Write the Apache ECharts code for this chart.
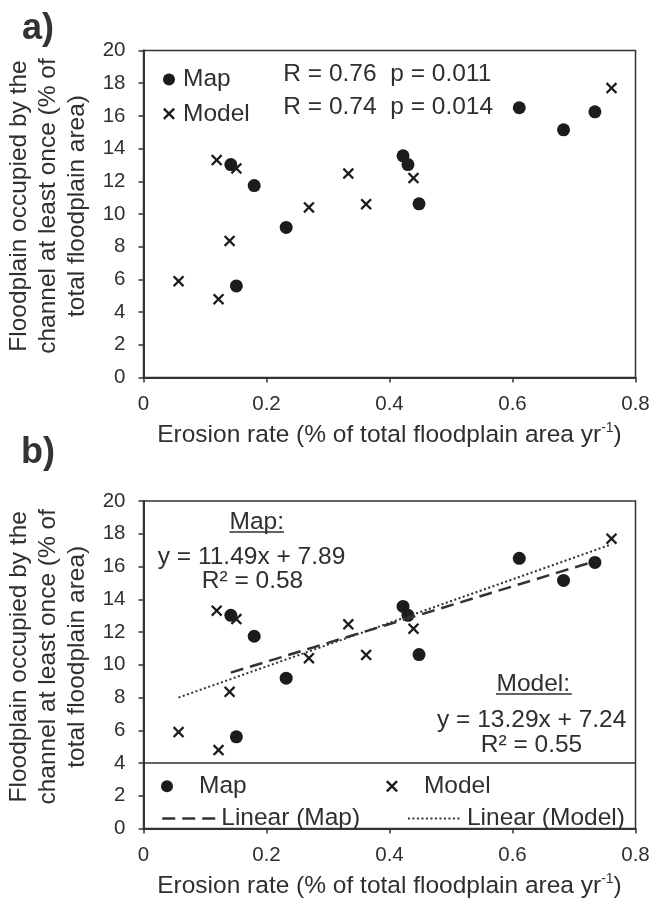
<!DOCTYPE html>
<html>
<head>
<meta charset="utf-8">
<script src="https://cdn.jsdelivr.net/npm/echarts@6/dist/echarts.min.js"></script>
<style>
  html, body { margin: 0; padding: 0; background: #fff; }
  #chart { width: 665px; height: 899px; }
</style>
</head>
<body>
<div id="chart"></div>
<script>
// Erosion rate (% of floodplain area per year) vs. floodplain occupied (%)
const mapX   = [0.142, 0.180, 0.151, 0.232, 0.422, 0.430, 0.448, 0.611, 0.683, 0.734];
const mapY   = [13.02, 11.74, 5.60, 9.18, 13.56, 13.02, 10.62, 16.50, 15.15, 16.25];
const modelX = [0.119, 0.151, 0.333, 0.269, 0.362, 0.439, 0.140, 0.057, 0.122, 0.761];
const modelY = [13.30, 12.79, 12.47, 10.40, 10.60, 12.20, 8.35, 5.89, 4.79, 17.70];

// Least-squares fits (slope, intercept, R²) and correlation stats
const mapFit   = [11.49, 7.89, 0.58];
const modelFit = [13.29, 7.24, 0.55];
const mapStats   = [0.76, 0.011];
const modelStats = [0.74, 0.014];

// Axis ranges / tick steps
const xRange = [0, 0.8, 0.2];
const yRange = [0, 20, 2];

const pairs = (xs, ys) => xs.map((x, i) => [x, ys[i]]);
const fitLine = (xs, fit) => {
  const lo = Math.min(...xs), hi = Math.max(...xs);
  return [[lo, fit[0] * lo + fit[1]], [hi, fit[0] * hi + fit[1]]];
};

const FONT = '"Liberation Sans", Arial, sans-serif';
const TXT = '#2f2f2f';
const AX = '#333333';
const MARK = '#1c1c1c';
// filled "x" glyph
const CROSS = 'path://M0,1.4L1.4,0L5,3.6L8.6,0L10,1.4L6.4,5L10,8.6L8.6,10L5,6.4L1.4,10L0,8.6L3.6,5Z';

const xAxisFor = (gi) => ({
  type: 'value', gridIndex: gi,
  min: xRange[0], max: xRange[1], interval: xRange[2],
  name: 'Erosion rate (% of total floodplain area yr{sup|-1})',
  nameLocation: 'middle', nameGap: 44,
  nameTextStyle: {
    fontFamily: FONT, fontSize: 24.5, color: TXT, lineHeight: 28,
    rich: { sup: { fontFamily: FONT, fontSize: 14, color: TXT, lineHeight: 14, verticalAlign: 'top' } }
  },
  axisLine: { show: true, lineStyle: { color: AX, width: 2 } },
  axisTick: { show: true, inside: false, length: 5, lineStyle: { color: AX, width: 1.5 } },
  axisLabel: { fontFamily: FONT, fontSize: 20.5, color: TXT, margin: 16 },
  splitLine: { show: false }
});

const yAxisFor = (gi) => ({
  type: 'value', gridIndex: gi,
  min: yRange[0], max: yRange[1], interval: yRange[2],
  name: 'Floodplain occupied by the\nchannel at least once (% of\ntotal floodplain area)',
  nameLocation: 'middle', nameGap: 46, nameRotate: 90,
  nameTextStyle: { fontFamily: FONT, fontSize: 24.5, color: TXT, lineHeight: 29, align: 'center', padding: [0, 0, 0, 16] },
  axisLine: { show: true, lineStyle: { color: AX, width: 2 } },
  axisTick: { show: true, inside: false, length: 5, lineStyle: { color: AX, width: 1.5 } },
  axisLabel: { fontFamily: FONT, fontSize: 20.5, color: TXT, margin: 18 },
  splitLine: { show: false }
});

const scatter = (name, gi, data, symbol, size) => ({
  name, type: 'scatter', xAxisIndex: gi, yAxisIndex: gi,
  data, symbol, symbolSize: size,
  itemStyle: { color: MARK, opacity: 1 },
  emphasis: { disabled: true }
});

const legendText = { fontFamily: FONT, fontSize: 24.5, color: TXT, lineHeight: 24 };
// fit lines show only their stroke in the legend
const lineKey = (name) => ({ name, itemStyle: { color: 'rgba(0,0,0,0)', opacity: 0 } });

const text = (x, y, str, align) => ({
  type: 'text', x, y, silent: true,
  style: { text: str, font: '24.5px ' + FONT, fill: TXT, align: align || 'center', verticalAlign: 'middle' }
});
const underline = (x1, x2, y) => ({
  type: 'line', silent: true,
  shape: { x1, y1: y, x2, y2: y },
  style: { stroke: TXT, lineWidth: 1.5 }
});
const fmt2 = (v) => v.toFixed(2);
const eqText = (f) => 'y = ' + fmt2(f[0]) + 'x + ' + fmt2(f[1]);

const gridBase = {
  left: 143.5, width: 492, show: true, containLabel: false, outerBoundsMode: 'none',
  borderColor: AX, borderWidth: 1.5, backgroundColor: 'transparent'
};

const chart = echarts.init(document.getElementById('chart'), null, { renderer: 'canvas' });

chart.setOption({
  animation: false,
  backgroundColor: '#ffffff',
  grid: [
    Object.assign({}, gridBase, { top: 50.5, height: 327 }),
    Object.assign({}, gridBase, { top: 501, height: 327.5 })
  ],
  xAxis: [xAxisFor(0), xAxisFor(1)],
  yAxis: [yAxisFor(0), yAxisFor(1)],
  legend: [
    {
      data: ['Map', 'Model'], orient: 'vertical', left: 158, top: 62,
      itemWidth: 18, itemHeight: 12, itemGap: 9.3, textStyle: legendText,
      selectedMode: false
    },
    {
      data: ['Map', 'Model'], orient: 'horizontal', left: 156, top: 768.7,
      itemWidth: 54, itemHeight: 12, itemGap: 139.3, textStyle: legendText,
      selectedMode: false
    },
    {
      data: [lineKey('Linear (Map)'), lineKey('Linear (Model)')], orient: 'horizontal', left: 156, top: 801,
      itemWidth: 54, itemHeight: 12, itemGap: 46.8, textStyle: legendText,
      lineStyle: { width: 'inherit' },
      selectedMode: false
    }
  ],
  series: [
    scatter('Map', 0, pairs(mapX, mapY), 'circle', 13),
    scatter('Model', 0, pairs(modelX, modelY), CROSS, 11.5),
    {
      name: 'Linear (Map)', type: 'line', xAxisIndex: 1, yAxisIndex: 1,
      data: fitLine(mapX, mapFit), symbol: 'none', showSymbol: false,
      itemStyle: { color: AX },
      lineStyle: { color: AX, width: 2.5, type: [13, 7] },
      emphasis: { disabled: true },
      markLine: {
        silent: true, symbol: ['none', 'none'], label: { show: false },
        lineStyle: { color: AX, width: 1.5, type: 'solid' },
        data: [{ yAxis: 4 }]
      }
    },
    {
      name: 'Linear (Model)', type: 'line', xAxisIndex: 1, yAxisIndex: 1,
      data: fitLine(modelX, modelFit), symbol: 'none', showSymbol: false,
      itemStyle: { color: AX },
      lineStyle: { color: AX, width: 2, type: [2, 2.5] },
      emphasis: { disabled: true }
    },
    scatter('Map', 1, pairs(mapX, mapY), 'circle', 13),
    scatter('Model', 1, pairs(modelX, modelY), CROSS, 11.5)
  ],
  graphic: [
    { type: 'text', x: 38, y: 29, silent: true,
      style: { text: 'a)', font: 'bold 36px ' + FONT, fill: '#333', align: 'center', verticalAlign: 'middle' } },
    { type: 'text', x: 38, y: 453, silent: true,
      style: { text: 'b)', font: 'bold 36px ' + FONT, fill: '#333', align: 'center', verticalAlign: 'middle' } },

    text(283.3, 74, 'R = ' + fmt2(mapStats[0]) + '  p = ' + mapStats[1].toFixed(3), 'left'),
    text(283.3, 107.3, 'R = ' + fmt2(modelStats[0]) + '  p = ' + modelStats[1].toFixed(3), 'left'),

    text(256.7, 522, 'Map:'),
    underline(229.5, 284, 532),
    text(251.5, 557, eqText(mapFit)),
    text(252.5, 581.7, 'R² = ' + fmt2(mapFit[2])),

    text(533.3, 684, 'Model:'),
    underline(496, 571.7, 694),
    text(531.7, 720, eqText(modelFit)),
    text(531.5, 745, 'R² = ' + fmt2(modelFit[2]))
  ]
});
</script>
</body>
</html>
